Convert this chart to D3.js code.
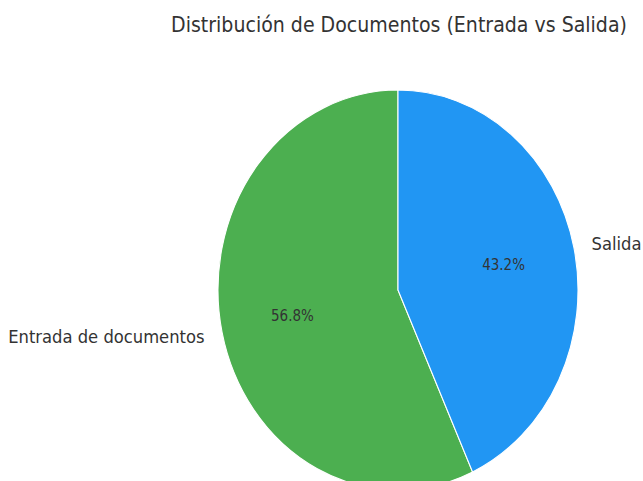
<!DOCTYPE html>
<html><head><meta charset="utf-8">
<script src="https://cdn.jsdelivr.net/npm/d3@7"></script>
<style>body{margin:0;background:#fff}svg{display:block}text{font-family:"DejaVu Sans",sans-serif;fill:#333}</style>
</head><body>
<script>
const categories = ["Entrada de documentos", "Salida"];
const values = [56.8, 43.2];
const colors = ["#4CAF50", "#2196F3"];
const title = "Distribución de Documentos (Entrada vs Salida)";

const W = 643, H = 481, R = 200, sx = 0.9;
const svg = d3.select("body").append("svg").attr("width", W).attr("height", H);

svg.append("g").attr("transform", `translate(399,32) scale(${sx},1)`)
  .append("text").attr("text-anchor", "middle").attr("font-size", 21.1).text(title);

const g = svg.append("g").attr("transform", `translate(398,290) scale(${sx},1)`);
const pie = d3.pie().sort(null).value(d => d)
  .startAngle(0).endAngle(-2 * Math.PI);
const arcs = pie(values);
const arc = d3.arc().innerRadius(0).outerRadius(R);

g.selectAll("path").data(arcs).join("path")
  .attr("d", arc).attr("fill", (d, i) => colors[i])
  .attr("stroke", "#fff").attr("stroke-width", 1.2).attr("stroke-linejoin", "round");

const total = d3.sum(values);
arcs.forEach((d, i) => {
  const mid = (d.startAngle + d.endAngle) / 2;
  const x = Math.sin(mid), y = -Math.cos(mid);
  g.append("text").attr("x", x * R * 1.1).attr("y", y * R * 1.1)
    .attr("text-anchor", x < 0 ? "end" : "start").attr("dominant-baseline", "central")
    .attr("font-size", 18.2).text(categories[i]);
  g.append("text").attr("x", x * R * 0.6).attr("y", y * R * 0.6)
    .attr("text-anchor", "middle").attr("dominant-baseline", "central")
    .attr("font-size", 15).text((values[i] / total * 100).toFixed(1) + "%");
});
</script>
</body></html>
